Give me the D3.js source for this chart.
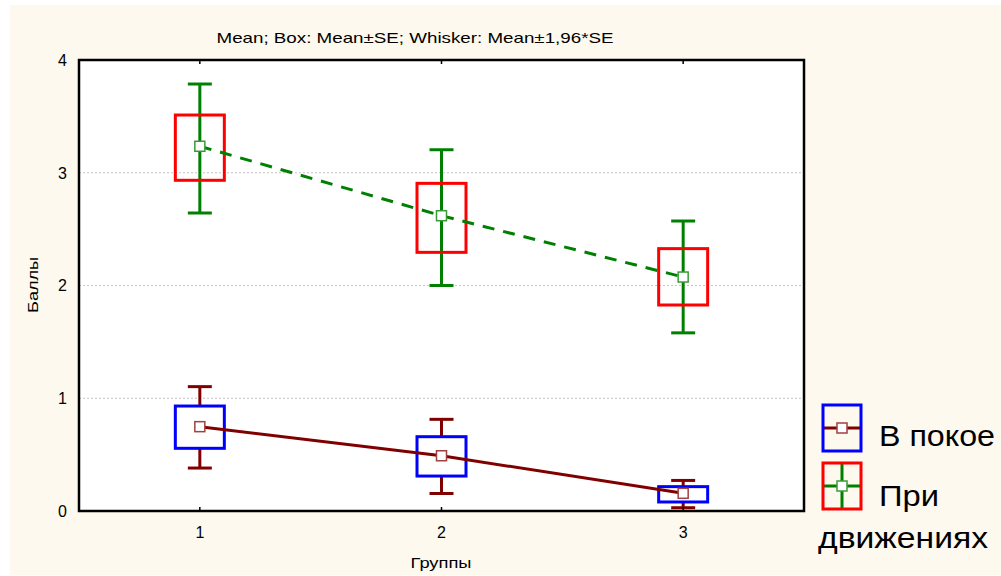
<!DOCTYPE html>
<html><head><meta charset="utf-8">
<script src="https://cdn.jsdelivr.net/npm/d3@7"></script>
<style>body{margin:0;background:#fff}svg{display:block}</style>
</head><body>
<script>
// ---- data ----
const groups = [1, 2, 3];
const seriesNames = ["В покое", "При движениях"];
// В покое
const restMean      = [0.748, 0.490, 0.157];
const restBoxLow    = [0.556, 0.310, 0.080];
const restBoxHigh   = [0.931, 0.659, 0.216];
const restWhiskLow  = [0.381, 0.155, 0.029];
const restWhiskHigh = [1.103, 0.813, 0.271];
// При движениях
const moveMean      = [3.235, 2.619, 2.075];
const moveBoxLow    = [2.933, 2.294, 1.827];
const moveBoxHigh   = [3.512, 2.906, 2.327];
const moveWhiskLow  = [2.643, 2.000, 1.580];
const moveWhiskHigh = [3.787, 3.204, 2.572];
const yTicks = [0, 1, 2, 3, 4];
const xTicks = [1, 2, 3];
const title = "Mean; Box: Mean±SE; Whisker: Mean±1,96*SE";
const xTitle = "Группы";
const yTitle = "Баллы";

const W = 1001, H = 576;
const svg = d3.select("body").append("svg").attr("width", W).attr("height", H);
const FONT = "'Liberation Sans', Arial, sans-serif";

svg.append("rect").attr("x", 10).attr("y", 5).attr("width", W - 10).attr("height", 570).attr("fill", "#fdf9ee");

const x = d3.scaleLinear().domain([0.5, 3.5]).range([79, 804]);
const y = d3.scaleLinear().domain([0, 4]).range([511, 60]);

// plot area
svg.append("rect").attr("x", x(0.5)).attr("y", y(4)).attr("width", x(3.5) - x(0.5)).attr("height", y(0) - y(4)).attr("fill", "#fff");

// grid
svg.append("g").selectAll("line").data([1, 2, 3]).join("line")
  .attr("x1", x(0.5)).attr("x2", x(3.5)).attr("y1", d => y(d)).attr("y2", d => y(d))
  .attr("stroke", "#c4c4c4").attr("stroke-width", 1).attr("stroke-dasharray", "2,2");

const series = [
  { mean: restMean, bl: restBoxLow, bh: restBoxHigh, wl: restWhiskLow, wh: restWhiskHigh,
    box: "#0000ff", whisk: "#800000", line: "#800000", marker: "#a04040", dash: null, fullWhisk: false },
  { mean: moveMean, bl: moveBoxLow, bh: moveBoxHigh, wl: moveWhiskLow, wh: moveWhiskHigh,
    box: "#ff0000", whisk: "#008000", line: "#008000", marker: "#3a9a3a", dash: "12,9", fullWhisk: true }
];
const boxW = 49, capW = 24;

series.forEach(s => {
  const g = svg.append("g");
  groups.forEach((gr, i) => {
    const cx = x(gr);
    if (s.fullWhisk) {
      g.append("line").attr("x1", cx).attr("x2", cx).attr("y1", y(s.wl[i])).attr("y2", y(s.wh[i]))
        .attr("stroke", s.whisk).attr("stroke-width", 3);
    } else {
      g.append("line").attr("x1", cx).attr("x2", cx).attr("y1", y(s.wh[i])).attr("y2", y(s.bh[i]))
        .attr("stroke", s.whisk).attr("stroke-width", 3);
      g.append("line").attr("x1", cx).attr("x2", cx).attr("y1", y(s.bl[i])).attr("y2", y(s.wl[i]))
        .attr("stroke", s.whisk).attr("stroke-width", 3);
    }
    [s.wl[i], s.wh[i]].forEach(v => {
      g.append("line").attr("x1", cx - capW / 2).attr("x2", cx + capW / 2).attr("y1", y(v)).attr("y2", y(v))
        .attr("stroke", s.whisk).attr("stroke-width", 3);
    });
    g.append("rect").attr("x", cx - boxW / 2).attr("y", y(s.bh[i])).attr("width", boxW)
      .attr("height", y(s.bl[i]) - y(s.bh[i])).attr("fill", "none").attr("stroke", s.box).attr("stroke-width", 3);
  });
});
series.forEach(s => {
  const line = d3.line().x((d, i) => x(groups[i])).y(d => y(d));
  const p = svg.append("path").attr("d", line(s.mean)).attr("fill", "none").attr("stroke", s.line).attr("stroke-width", 3);
  if (s.dash) p.attr("stroke-dasharray", s.dash);
});
series.forEach(s => {
  svg.append("g").selectAll("rect").data(s.mean).join("rect")
    .attr("x", (d, i) => x(groups[i]) - 5).attr("y", d => y(d) - 5).attr("width", 10).attr("height", 10)
    .attr("fill", "#fff").attr("stroke", s.marker).attr("stroke-width", 1.5);
});

// frame
svg.append("rect").attr("x", x(0.5)).attr("y", y(4)).attr("width", x(3.5) - x(0.5)).attr("height", y(0) - y(4))
  .attr("fill", "none").attr("stroke", "#000").attr("stroke-width", 2.5);
// inner ticks
svg.append("g").selectAll("line").data(xTicks).join("line")
  .attr("x1", d => x(d)).attr("x2", d => x(d)).attr("y1", y(0)).attr("y2", y(0) - 4).attr("stroke", "#000").attr("stroke-width", 1.5);
svg.append("g").selectAll("line").data(xTicks).join("line")
  .attr("x1", d => x(d)).attr("x2", d => x(d)).attr("y1", y(4)).attr("y2", y(4) + 4).attr("stroke", "#000").attr("stroke-width", 1.5);

// tick labels
svg.append("g").selectAll("text").data(yTicks).join("text")
  .attr("x", 67).attr("y", d => y(d)).attr("dy", "0.36em").attr("text-anchor", "end")
  .attr("font-family", FONT).attr("font-size", 16).text(d => d);
svg.append("g").selectAll("text").data(xTicks).join("text")
  .attr("x", d => x(d)).attr("y", 532).attr("dy", "0.36em").attr("text-anchor", "middle")
  .attr("font-family", FONT).attr("font-size", 16).text(d => d);

// titles
svg.append("text").attr("x", 415).attr("y", 43).attr("text-anchor", "middle")
  .attr("font-family", FONT).attr("font-size", 15).attr("textLength", 397).attr("lengthAdjust", "spacingAndGlyphs").text(title);
svg.append("text").attr("x", 441).attr("y", 568).attr("text-anchor", "middle")
  .attr("font-family", FONT).attr("font-size", 15).attr("textLength", 61).attr("lengthAdjust", "spacingAndGlyphs").text(xTitle);
svg.append("text").attr("transform", "translate(38,285) rotate(-90)").attr("text-anchor", "middle")
  .attr("font-family", FONT).attr("font-size", 15).attr("textLength", 56).attr("lengthAdjust", "spacingAndGlyphs").text(yTitle);

// legend
const leg = svg.append("g");
const legItems = [
  { y0: 405, box: "#0000ff", line: "#800000", marker: "#a04040", cross: false, name: seriesNames[0] },
  { y0: 463, box: "#ff0000", line: "#008000", marker: "#3a9a3a", cross: true, name: seriesNames[1] }
];
legItems.forEach(it => {
  const bx = 823, bw = 38, bh = 46, cx = bx + bw / 2, cy = it.y0 + bh / 2;
  leg.append("line").attr("x1", bx).attr("x2", bx + bw).attr("y1", cy).attr("y2", cy).attr("stroke", it.line).attr("stroke-width", 3);
  if (it.cross) leg.append("line").attr("x1", cx).attr("x2", cx).attr("y1", it.y0).attr("y2", it.y0 + bh).attr("stroke", it.line).attr("stroke-width", 3);
  leg.append("rect").attr("x", bx).attr("y", it.y0).attr("width", bw).attr("height", bh).attr("fill", "none").attr("stroke", it.box).attr("stroke-width", 3);
  leg.append("rect").attr("x", cx - 5).attr("y", cy - 5).attr("width", 10).attr("height", 10).attr("fill", "#fff").attr("stroke", it.marker).attr("stroke-width", 1.5);
});
leg.append("text").attr("x", 879).attr("y", 446).attr("font-family", FONT).attr("font-size", 30)
  .attr("textLength", 116).attr("lengthAdjust", "spacingAndGlyphs").text(seriesNames[0]);
const parts = seriesNames[1].split(" ");
leg.append("text").attr("x", 879).attr("y", 506).attr("font-family", FONT).attr("font-size", 30)
  .attr("textLength", 60).attr("lengthAdjust", "spacingAndGlyphs").text(parts[0]);
leg.append("text").attr("x", 818).attr("y", 548).attr("font-family", FONT).attr("font-size", 30)
  .attr("textLength", 170).attr("lengthAdjust", "spacingAndGlyphs").text(parts[1]);
</script>
</body></html>
